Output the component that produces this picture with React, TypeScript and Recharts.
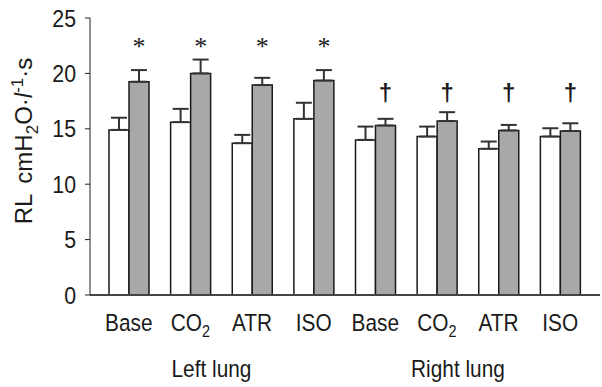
import React from "react";
import { BarChart, Bar, XAxis, YAxis, ErrorBar, LabelList } from "recharts";

const categories = ["L-Base", "L-CO2", "L-ATR", "L-ISO", "R-Base", "R-CO2", "R-ATR", "R-ISO"];
const tickLabels = ["Base", "CO2", "ATR", "ISO", "Base", "CO2", "ATR", "ISO"];
const whiteValues = [14.9, 15.6, 13.7, 15.9, 14.0, 14.3, 13.2, 14.3];
const whiteErrors = [1.1, 1.2, 0.75, 1.45, 1.2, 0.9, 0.65, 0.75];
const grayValues = [19.25, 20.0, 18.95, 19.35, 15.3, 15.7, 14.85, 14.8];
const grayErrors = [1.05, 1.25, 0.65, 0.95, 0.6, 0.8, 0.5, 0.7];
const markSymbols = ["*", "*", "*", "*", "†", "†", "†", "†"];
const markLevels = [22.7, 22.7, 22.7, 22.7, 18.1, 18.1, 18.1, 18.1];
const groupLabels = ["Left lung", "Right lung"];
const yTicks = [0, 5, 10, 15, 20, 25];

const data = categories.map((c, i) => ({
  cat: c,
  white: whiteValues[i],
  whiteErr: [0, whiteErrors[i]],
  gray: grayValues[i],
  grayErr: [0, grayErrors[i]],
  mark: markSymbols[i],
}));

const FONT = "'Liberation Sans', Arial, sans-serif";
const TEXT = "#1a1a1a";
const NARROW = 0.85;

const XTick = (props: any) => {
  const { x, y, index } = props;
  const label = tickLabels[index];
  const base = y + 36;
  const main =
    label === "CO2" ? (
      <text transform={`translate(${x},${base}) scale(${NARROW},1)`} textAnchor="middle" fontSize={24.5} fontFamily={FONT} fill={TEXT}>
        CO<tspan dy={6} fontSize={17}>2</tspan>
      </text>
    ) : (
      <text transform={`translate(${x},${base}) scale(${NARROW},1)`} textAnchor="middle" fontSize={24.5} fontFamily={FONT} fill={TEXT}>
        {label}
      </text>
    );
  let group: React.ReactNode = null;
  if (index === 1 || index === 5) {
    group = (
      <text transform={`translate(${x + 21},${y + 82}) scale(${NARROW},1)`} textAnchor="middle" fontSize={24.5} fontFamily={FONT} fill={TEXT}>
        {groupLabels[index === 1 ? 0 : 1]}
      </text>
    );
  }
  return (
    <g>
      {main}
      {group}
    </g>
  );
};

const YTick = (props: any) => {
  const { x, y, payload } = props;
  return (
    <text transform={`translate(${x},${y + 8.5}) scale(${NARROW + 0.02},1)`} textAnchor="end" fontSize={24.5} fontFamily={FONT} fill={TEXT}>
      {payload.value}
    </text>
  );
};

const YLabel = () => (
  <text transform="rotate(-90)" x={-141} y={32} textAnchor="middle" fontSize={24} fontFamily={FONT} fill={TEXT}>
    RL<tspan dx={10}>cmH</tspan>
    <tspan dy={6} fontSize={17}>2</tspan>
    <tspan dy={-6}>O·</tspan>
    <tspan fontStyle="italic">l</tspan>
    <tspan dy={-9} fontSize={17}>-1</tspan>
    <tspan dy={9}>·s</tspan>
  </text>
);

const MarkLabel = (props: any) => {
  const { x, y, width, height, index } = props;
  const v = grayValues[index];
  const bottom = y + height;
  const pxPer = height / v;
  const cy = bottom - markLevels[index] * pxPer;
  const sym = markSymbols[index];
  if (sym === "*") {
    return (
      <text x={x + width / 2} y={cy + 12} textAnchor="middle" fontSize={26} fontFamily="'Liberation Serif', serif" fill={TEXT}>
        *
      </text>
    );
  }
  return (
    <text x={x + width / 2} y={cy + 7} textAnchor="middle" fontSize={24} fontWeight="bold" fontFamily={FONT} fill={TEXT}>
      †
    </text>
  );
};

export default function App() {
  return (
    <div style={{ position: "absolute", left: 0, top: 0, width: 602, height: 387, background: "#fff" }}>
      <BarChart
        width={602}
        height={387}
        data={data}
        margin={{ top: 18, right: 2, bottom: 0, left: 0 }}
        barGap={0}
        barSize={20}
      >
        <XAxis
          dataKey="cat"
          height={92}
          padding={{ left: 8, right: 9 }}
          axisLine={{ stroke: "#444", strokeWidth: 2 }}
          tickLine={false}
          tickSize={0}
          tickMargin={0}
          interval={0}
          tick={<XTick />}
        />
        <YAxis
          width={90}
          domain={[0, 25]}
          ticks={yTicks}
          interval={0}
          axisLine={{ stroke: "#222", strokeWidth: 1 }}
          tickLine={{ stroke: "#222", strokeWidth: 1 }}
          tickSize={5}
          tickMargin={9}
          tick={<YTick />}
          label={<YLabel />}
        />
        <Bar dataKey="white" fill="#ffffff" stroke="#1a1a1a" strokeWidth={1.5} isAnimationActive={false}>
          <ErrorBar dataKey="whiteErr" width={8} strokeWidth={2} stroke="#333" direction="y" />
        </Bar>
        <Bar dataKey="gray" fill="#a8a8a8" stroke="#1a1a1a" strokeWidth={1.5} isAnimationActive={false}>
          <ErrorBar dataKey="grayErr" width={8} strokeWidth={2} stroke="#333" direction="y" />
          <LabelList dataKey="mark" content={<MarkLabel />} />
        </Bar>
      </BarChart>
    </div>
  );
}
